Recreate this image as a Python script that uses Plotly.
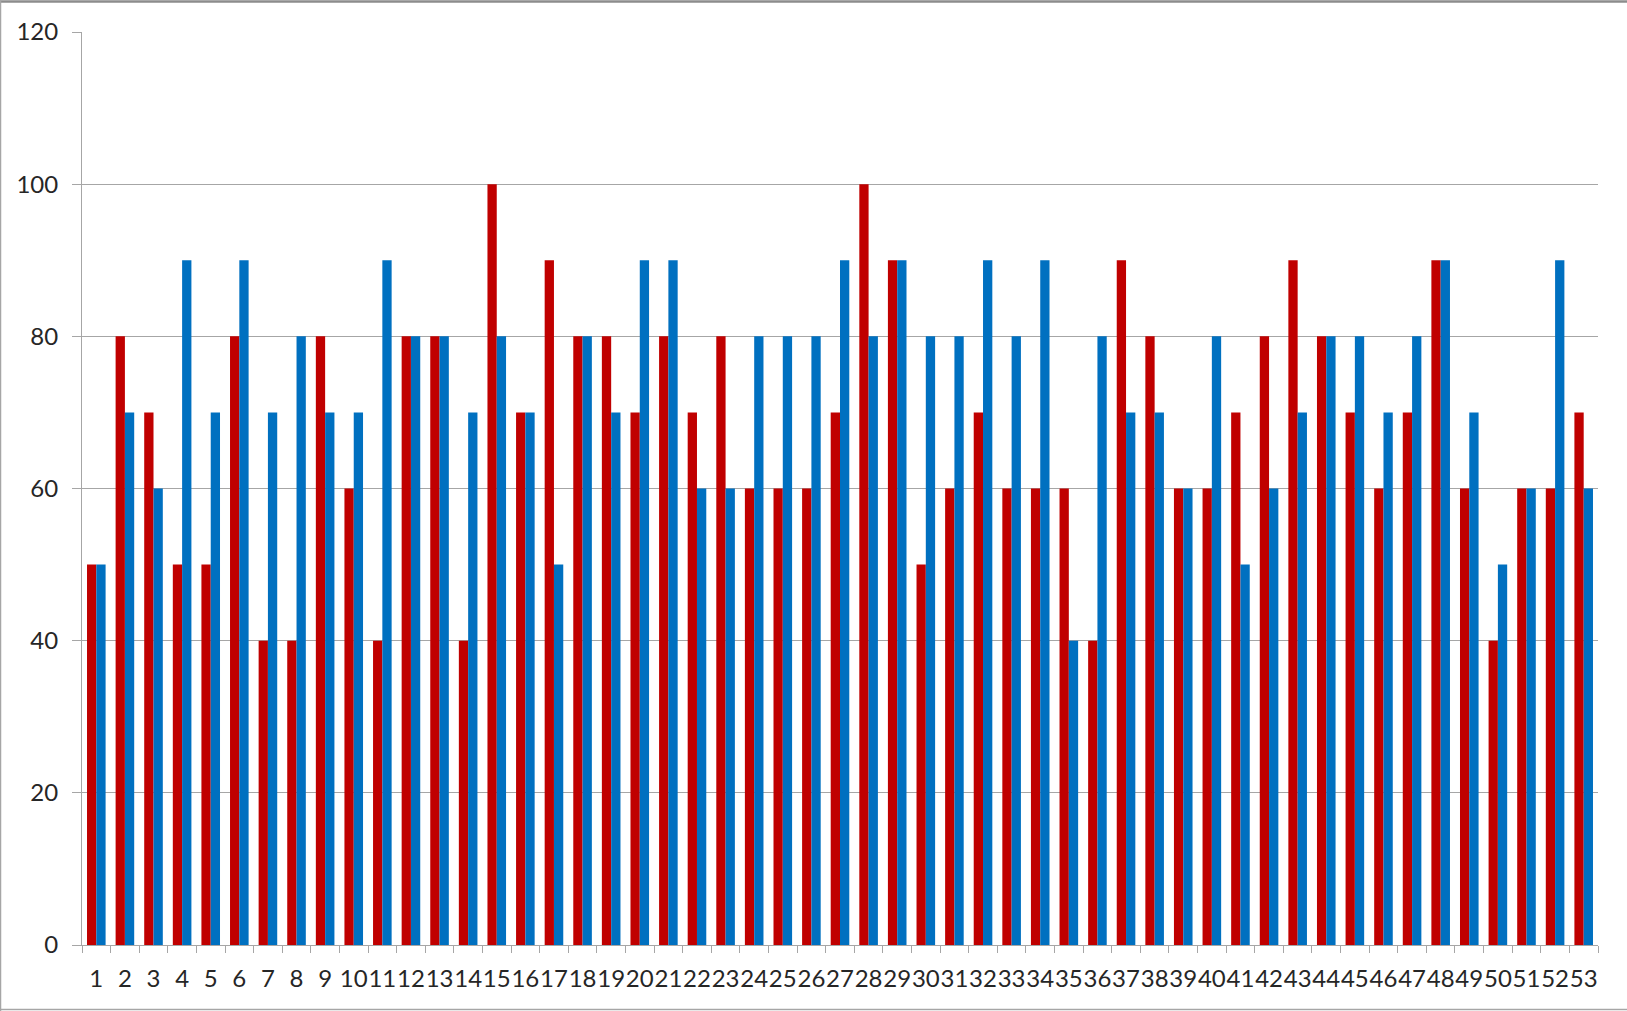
import plotly.graph_objects as go

categories = [str(i) for i in range(1, 54)]

series_red = [50, 80, 70, 50, 50, 80, 40, 40, 80, 60,
              40, 80, 80, 40, 100, 70, 90, 80, 80, 70,
              80, 70, 80, 60, 60, 60, 70, 100, 90, 50,
              60, 70, 60, 60, 60, 40, 90, 80, 60, 60,
              70, 80, 90, 80, 70, 60, 70, 90, 60, 40,
              60, 60, 70]

series_blue = [50, 70, 60, 90, 70, 90, 70, 80, 70, 70,
               90, 80, 80, 70, 80, 70, 50, 80, 70, 90,
               90, 60, 60, 80, 80, 80, 90, 80, 90, 80,
               80, 90, 80, 90, 40, 80, 70, 70, 60, 80,
               50, 60, 70, 80, 80, 70, 80, 90, 70, 50,
               60, 90, 60]

y_ticks = [0, 20, 40, 60, 80, 100, 120]

W, H = 1627, 1011
ML, MR, MT, MB = 82, 29, 32, 66
PW, PH = W - ML - MR, H - MT - MB


def px(x):
    return (x - ML) / PW


def py(y):
    return (H - MB - y) / PH


fig = go.Figure()
fig.add_trace(go.Bar(x=categories, y=series_red, marker=dict(color="#C00000", line=dict(width=0))))
fig.add_trace(go.Bar(x=categories, y=series_blue, marker=dict(color="#0070C0", line=dict(width=0))))

grid = "#a6a6a6"
font = dict(family="Lato, 'Open Sans', sans-serif", size=24, color="#262626")

# outer chart frame
frame = [
    dict(x0=px(0), x1=px(W), y0=py(1.5), y1=py(1.5), width=2.5, color="#8c8c8c"),
    dict(x0=px(0.5), x1=px(0.5), y0=py(0), y1=py(H), width=1.5, color="#a6a6a6"),
    dict(x0=px(0), x1=px(W), y0=py(1009.5), y1=py(1009.5), width=1.5, color="#a6a6a6"),
]
shapes = [dict(type="line", xref="paper", yref="paper", x0=f["x0"], x1=f["x1"],
               y0=f["y0"], y1=f["y1"], line=dict(color=f["color"], width=f["width"]))
          for f in frame]

fig.update_layout(
    width=W, height=H,
    margin=dict(l=ML, r=MR, t=MT, b=MB, pad=0),
    paper_bgcolor="white", plot_bgcolor="white",
    barmode="group", bargap=0.35, bargroupgap=0,
    showlegend=False,
    font=font,
    shapes=shapes,
    xaxis=dict(
        type="category", tickmode="array", tickvals=categories, ticktext=categories,
        tickangle=0, tickson="boundaries", ticks="outside", ticklen=7,
        tickcolor=grid, showline=True, linecolor=grid, linewidth=1,
        showgrid=False, ticklabelstandoff=12, tickfont=font,
    ),
    yaxis=dict(
        range=[0, 120], tickvals=y_ticks, ticks="outside", ticklen=9,
        tickcolor=grid, showline=True, linecolor=grid, linewidth=1,
        showgrid=True, gridcolor=grid, gridwidth=1, zeroline=False,
        ticklabelstandoff=9, tickfont=font,
    ),
)

fig.write_html("out.html")
